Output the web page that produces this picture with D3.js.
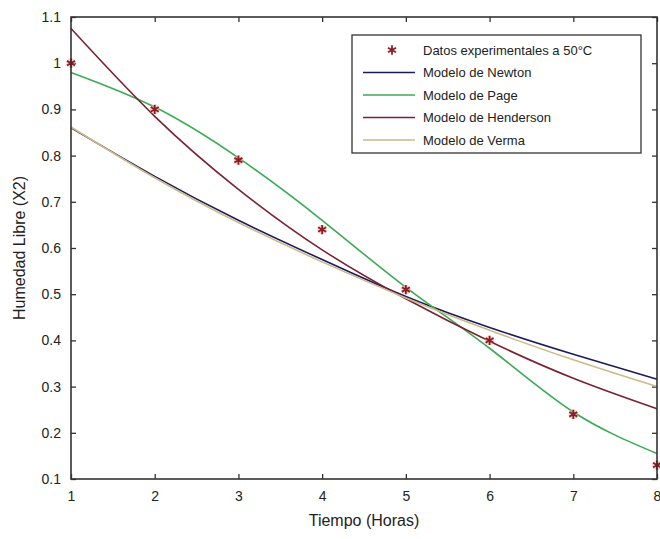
<html>
<head>
<meta charset="UTF-8">
<script src="https://d3js.org/d3.v7.min.js"></script>
<style>
  body { margin: 0; background: #fff; }
  text { font-family: "Liberation Sans", Arial, sans-serif; fill: #222; }
</style>
</head>
<body>
<svg id="chart" width="660" height="539"></svg>
<script>
// data
const tiempo = [1, 2, 3, 4, 5, 6, 7, 8];
const datosExp = [1.0, 0.90, 0.79, 0.64, 0.51, 0.40, 0.24, 0.13];
const newton = [0.86, 0.755, 0.66, 0.575, 0.495, 0.428, 0.37, 0.316];
const page = [0.98, 0.905, 0.795, 0.66, 0.515, 0.383, 0.245, 0.155];
const henderson = [1.075, 0.885, 0.727, 0.596, 0.49, 0.398, 0.318, 0.252];
const verma = [0.862, 0.752, 0.655, 0.57, 0.492, 0.422, 0.358, 0.30];
const xTicks = [1, 2, 3, 4, 5, 6, 7, 8];
const yTicks = [0.1, 0.2, 0.3, 0.4, 0.5, 0.6, 0.7, 0.8, 0.9, 1, 1.1];

const series = [
  {name: "Modelo de Newton", values: newton, color: "#1c1c5a"},
  {name: "Modelo de Page", values: page, color: "#3daa55"},
  {name: "Modelo de Henderson", values: henderson, color: "#7a2334"},
  {name: "Modelo de Verma", values: verma, color: "#cdb98a"}
];

let svg = d3.select("svg#chart");
let margin = {top: 17, right: 3, bottom: 60, left: 71};
let width = +svg.attr("width"), height = +svg.attr("height");

let x = d3.scaleLinear().domain([1, 8]).range([margin.left, width - margin.right]);
let y = d3.scaleLinear().domain([0.1, 1.1]).range([height - margin.bottom, margin.top]);

// axes (ticks inward, box on)
let tl = 5;
svg.append("g").attr("transform", `translate(0,${y(0.1)})`)
   .call(d3.axisBottom(x).tickValues(xTicks).tickFormat(d3.format("d")).tickSizeInner(-tl).tickSizeOuter(0).tickPadding(12))
   .call(g => g.select(".domain").remove())
   .call(g => g.selectAll("text").style("font-size", "14px"));
svg.append("g").attr("transform", `translate(0,${y(1.1)})`)
   .call(d3.axisTop(x).tickValues(xTicks).tickFormat("").tickSizeInner(-tl).tickSizeOuter(0))
   .call(g => g.select(".domain").remove());
svg.append("g").attr("transform", `translate(${x(1)},0)`)
   .call(d3.axisLeft(y).tickValues(yTicks).tickFormat(d3.format("~g")).tickSizeInner(-tl).tickSizeOuter(0).tickPadding(10))
   .call(g => g.select(".domain").remove())
   .call(g => g.selectAll("text").style("font-size", "14px"));
svg.append("g").attr("transform", `translate(${x(8)},0)`)
   .call(d3.axisRight(y).tickValues(yTicks).tickFormat("").tickSizeInner(-tl).tickSizeOuter(0))
   .call(g => g.select(".domain").remove());
svg.selectAll(".tick line").attr("stroke", "#333").attr("stroke-width", 1.3);

// curves
let line = d3.line().x((d, i) => x(tiempo[i])).y(d => y(d)).curve(d3.curveNatural);
series.forEach(s => {
  svg.append("path").datum(s.values)
     .attr("d", line)
     .attr("fill", "none")
     .attr("stroke", s.color)
     .attr("stroke-width", 1.6);
});

// experimental points
let star = d3.symbol(d3.symbolAsterisk, 60);
datosExp.forEach((v, i) => {
  svg.append("path").attr("d", star)
     .attr("transform", `translate(${x(tiempo[i])},${y(v)})`)
     .attr("fill", "none").attr("stroke", "#f4b0a8").attr("stroke-width", 4).attr("opacity", 0.6);
  svg.append("path").attr("d", star)
     .attr("transform", `translate(${x(tiempo[i])},${y(v)})`)
     .attr("fill", "none").attr("stroke", "#8b1e24").attr("stroke-width", 1.8);
});

// frame
svg.append("rect")
   .attr("x", x(1)).attr("y", y(1.1))
   .attr("width", x(8) - x(1)).attr("height", y(0.1) - y(1.1))
   .attr("fill", "none").attr("stroke", "#333").attr("stroke-width", 1.6);

// axis titles
svg.append("text").attr("x", (x(1) + x(8)) / 2).attr("y", 526)
   .attr("text-anchor", "middle").style("font-size", "16px").text("Tiempo (Horas)");
svg.append("text").attr("transform", `translate(25,${(y(0.1) + y(1.1)) / 2}) rotate(-90)`)
   .attr("text-anchor", "middle").style("font-size", "16px").text("Humedad Libre (X2)");

// legend
let lg = svg.append("g");
lg.append("rect").attr("x", 352).attr("y", 35).attr("width", 289).attr("height", 118)
  .attr("fill", "#fff").attr("stroke", "#333").attr("stroke-width", 1.3);
let rowY = [50, 72.5, 95, 117.5, 140];
lg.append("path").attr("d", star).attr("transform", `translate(392,${rowY[0]})`)
  .attr("fill", "none").attr("stroke", "#8b1e24").attr("stroke-width", 1.8);
lg.append("text").attr("x", 423).attr("y", rowY[0]).attr("dy", "0.35em")
  .style("font-size", "13px").text("Datos experimentales a 50°C");
series.forEach((s, i) => {
  lg.append("line").attr("x1", 363).attr("x2", 415)
    .attr("y1", rowY[i + 1]).attr("y2", rowY[i + 1])
    .attr("stroke", s.color).attr("stroke-width", 1.6);
  lg.append("text").attr("x", 423).attr("y", rowY[i + 1]).attr("dy", "0.35em")
    .style("font-size", "13px").text(s.name);
});
</script>
</body>
</html>
